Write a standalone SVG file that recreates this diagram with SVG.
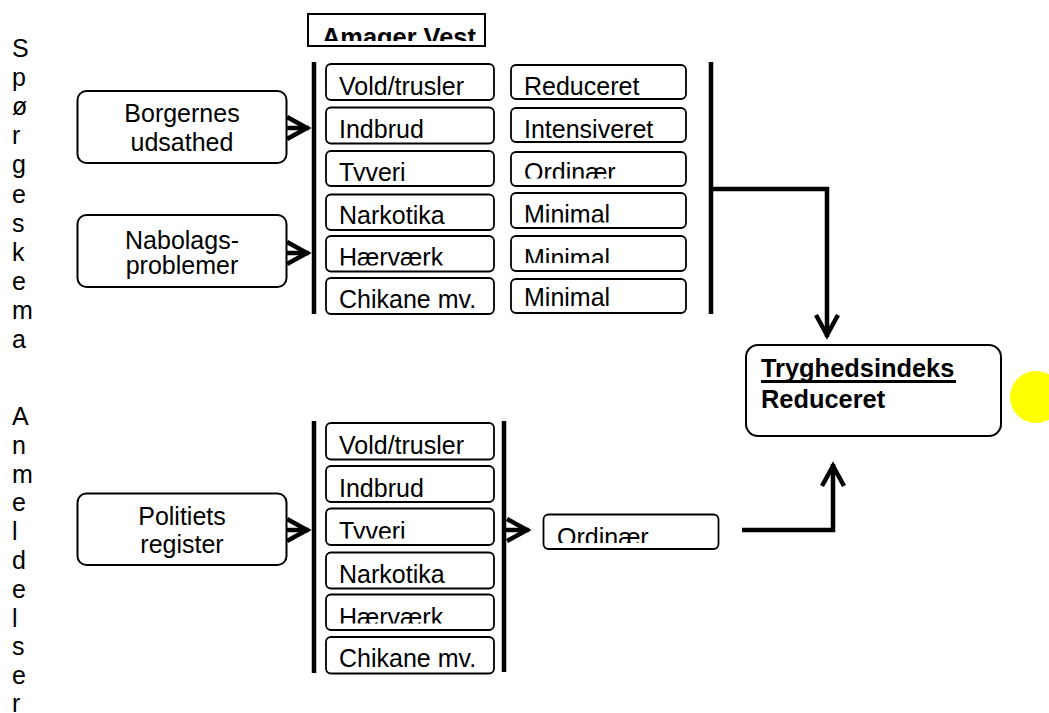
<svg xmlns="http://www.w3.org/2000/svg" width="1049" height="713" viewBox="0 0 1049 713">
<style>
text{font-family:"Liberation Sans",Arial,sans-serif;font-size:25px;fill:#000}
.b{font-weight:bold;font-size:25.4px}
.node{fill:#fff;stroke:#000;stroke-width:2}
.cell{fill:#fff;stroke:#000;stroke-width:1.8}
.bar{stroke:#000;stroke-width:4.5;fill:none}
.conn{stroke:#000;stroke-width:4.5;fill:none;stroke-linejoin:miter}
.mid{text-anchor:middle}
</style>
<defs>
<marker id="chev" markerUnits="userSpaceOnUse" viewBox="-26 -15 32 30" markerWidth="32" markerHeight="30" refX="2" refY="0" orient="auto">
<path d="M-20,-11 L0,0 L-20,11" fill="none" stroke="#000" stroke-width="4.5" stroke-linejoin="miter"/>
</marker>
<clipPath id="cAV"><rect x="309" y="15" width="175" height="26"/></clipPath>
<clipPath id="cL3"><rect x="327" y="152" width="166" height="29"/></clipPath>
<clipPath id="cL5"><rect x="327" y="237" width="166" height="28.5"/></clipPath>
<clipPath id="cR3"><rect x="512" y="153" width="173" height="25.5"/></clipPath>
<clipPath id="cR4"><rect x="512" y="194" width="173" height="28.5"/></clipPath>
<clipPath id="cR5"><rect x="512" y="237" width="173" height="26"/></clipPath>
<clipPath id="cB3"><rect x="327" y="509.5" width="166" height="29"/></clipPath>
<clipPath id="cB5"><rect x="327" y="595.5" width="166" height="28"/></clipPath>
<clipPath id="cOB"><rect x="544.5" y="515.5" width="173" height="27.5"/></clipPath>
</defs>

<g id="side-labels">
<text x="12" y="57">S</text><text x="12" y="86">p</text><text x="12" y="115">ø</text><text x="12" y="144">r</text><text x="12" y="173">g</text><text x="12" y="203">e</text><text x="12" y="232">s</text><text x="12" y="261">k</text><text x="12" y="290">e</text><text x="12" y="319">m</text><text x="12" y="348">a</text>
<text x="12" y="425">A</text><text x="12" y="454">n</text><text x="12" y="483">m</text><text x="12" y="511">e</text><text x="12" y="540">l</text><text x="12" y="569">d</text><text x="12" y="598">e</text><text x="12" y="627">l</text><text x="12" y="655">s</text><text x="12" y="684">e</text><text x="12" y="712">r</text>
</g>

<g id="amager-vest">
<rect x="308" y="14" width="177" height="32" fill="#fff" stroke="#000" stroke-width="2"/>
<text class="b" x="322" y="46" clip-path="url(#cAV)">Amager Vest</text>
</g>

<g id="borgernes">
<rect class="node" x="77.5" y="91" width="209" height="72" rx="9"/>
<text class="mid" x="182" y="122">Borgernes</text>
<text class="mid" x="182" y="151">udsathed</text>
</g>
<g id="nabolags">
<rect class="node" x="77.5" y="215" width="209" height="72" rx="9"/>
<text class="mid" x="182" y="248.5">Nabolags-</text>
<text class="mid" x="182" y="274">problemer</text>
</g>
<g id="politiets">
<rect class="node" x="77.5" y="493.5" width="209" height="71.5" rx="9"/>
<text class="mid" x="182" y="524.5">Politiets</text>
<text class="mid" x="182" y="552.5">register</text>
</g>

<g id="top-categories">
<g id="t-vold"><rect class="cell" x="326" y="64" width="168" height="36" rx="5"/><text x="339" y="94.5">Vold/trusler</text></g>
<g id="t-indbrud"><rect class="cell" x="326" y="107.5" width="168" height="36" rx="5"/><text x="339" y="138">Indbrud</text></g>
<g id="t-tyveri"><rect class="cell" x="326" y="151" width="168" height="35" rx="5"/><text x="339" y="181" clip-path="url(#cL3)">Tyveri</text></g>
<g id="t-narko"><rect class="cell" x="326" y="194.5" width="168" height="35.5" rx="5"/><text x="339" y="223.5">Narkotika</text></g>
<g id="t-haervaerk"><rect class="cell" x="326" y="236" width="168" height="35.5" rx="5"/><text x="339" y="266" clip-path="url(#cL5)">Hærværk</text></g>
<g id="t-chikane"><rect class="cell" x="326" y="278" width="168" height="36" rx="5"/><text x="339" y="307.5">Chikane mv.</text></g>
</g>

<g id="top-levels">
<g id="r-1"><rect class="cell" x="511" y="65" width="175" height="34" rx="5"/><text x="524" y="94.5">Reduceret</text></g>
<g id="r-2"><rect class="cell" x="511" y="108" width="175" height="34" rx="5"/><text x="524" y="137.5">Intensiveret</text></g>
<g id="r-3"><rect class="cell" x="511" y="152" width="175" height="34" rx="5"/><text x="524" y="181" clip-path="url(#cR3)">Ordinær</text></g>
<g id="r-4"><rect class="cell" x="511" y="193" width="175" height="35" rx="5"/><text x="524" y="223" clip-path="url(#cR4)">Minimal</text></g>
<g id="r-5"><rect class="cell" x="511" y="236" width="175" height="35" rx="5"/><text x="524" y="266.5" clip-path="url(#cR5)">Minimal</text></g>
<g id="r-6"><rect class="cell" x="511" y="279" width="175" height="34" rx="5"/><text x="524" y="305.5">Minimal</text></g>
</g>

<g id="bottom-categories">
<g id="b-vold"><rect class="cell" x="326" y="423" width="168" height="36.5" rx="5"/><text x="339" y="453.5">Vold/trusler</text></g>
<g id="b-indbrud"><rect class="cell" x="326" y="466" width="168" height="36" rx="5"/><text x="339" y="496.5">Indbrud</text></g>
<g id="b-tyveri"><rect class="cell" x="326" y="508.5" width="168" height="36.5" rx="5"/><text x="339" y="539.5" clip-path="url(#cB3)">Tyveri</text></g>
<g id="b-narko"><rect class="cell" x="326" y="552.5" width="168" height="36" rx="5"/><text x="339" y="582.5">Narkotika</text></g>
<g id="b-haervaerk"><rect class="cell" x="326" y="594.5" width="168" height="35.5" rx="5"/><text x="339" y="626" clip-path="url(#cB5)">Hærværk</text></g>
<g id="b-chikane"><rect class="cell" x="326" y="637" width="168" height="36.5" rx="5"/><text x="339" y="666.5">Chikane mv.</text></g>
</g>

<g id="ordinaer-bottom">
<rect class="cell" x="543.5" y="514.5" width="175" height="34.5" rx="5"/>
<text x="557" y="546" clip-path="url(#cOB)">Ordinær</text>
</g>

<g id="tryghedsindeks">
<rect class="node" x="746" y="345" width="255" height="91" rx="12"/>
<text class="b" x="761" y="376.5">Tryghedsindeks</text>
<rect x="761" y="380" width="195" height="3" fill="#000"/>
<text class="b" x="761" y="407.5">Reduceret</text>
</g>

<g id="yellow-dot">
<circle cx="1036" cy="397" r="26" fill="#ffff00"/>
</g>

<g id="connectors">
<line class="bar" x1="314" y1="62" x2="314" y2="314"/>
<line class="bar" x1="711" y1="62" x2="711" y2="314"/>
<line class="bar" x1="314" y1="421" x2="314" y2="673"/>
<line class="bar" x1="504" y1="421" x2="504" y2="672"/>
<line class="conn" x1="287" y1="128" x2="309" y2="128" marker-end="url(#chev)"/>
<line class="conn" x1="287" y1="253" x2="309" y2="253" marker-end="url(#chev)"/>
<line class="conn" x1="287" y1="530" x2="309" y2="530" marker-end="url(#chev)"/>
<line class="conn" x1="506" y1="530" x2="529" y2="530" marker-end="url(#chev)"/>
<path class="conn" d="M711,189 H827 V337" marker-end="url(#chev)"/>
<path class="conn" d="M742,530 H833 V464" marker-end="url(#chev)"/>
</g>
</svg>
